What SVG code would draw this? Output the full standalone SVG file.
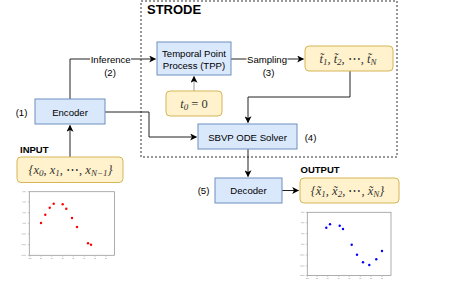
<svg xmlns="http://www.w3.org/2000/svg" width="457" height="287" viewBox="0 0 457 287">
<defs>
<marker id="ah" viewBox="0 0 10 10" refX="9" refY="5" markerWidth="7" markerHeight="7" orient="auto" markerUnits="userSpaceOnUse">
<path d="M0,0 L10,5 L0,10 L2.5,5 Z" fill="#000"/>
</marker>
<style>
.blue{fill:#dae8fc;stroke:#6c8ebf;stroke-width:1}
.yel{fill:#fff2cc;stroke:#d6b656;stroke-width:1}
.lbl{font-family:"Liberation Sans",Arial,sans-serif;font-size:9.6px;fill:#000;text-anchor:middle}
.bold{font-family:"Liberation Sans",Arial,sans-serif;font-weight:bold;fill:#000}
.math{font-family:"Liberation Serif","DejaVu Serif",serif;font-style:italic;font-size:12.5px;fill:#333;text-anchor:middle}
.conn{fill:none;stroke:#222;stroke-width:1}
.frame{fill:#fff;stroke:#999;stroke-width:0.8}
.tick{stroke:#aaa;stroke-width:0.6}
.rp{fill:#f00}
.bp{fill:#00f}
</style>
</defs>
<rect width="457" height="287" fill="#fff"/>

<g id="strode">
<rect x="141" y="1" width="256" height="156" fill="none" stroke="#333" stroke-width="1" stroke-dasharray="2 2"/>
<text class="bold" x="147" y="14" font-size="13">STRODE</text>
</g>

<g id="connectors">
<path class="conn" d="M70,99 V59 H155.5" marker-end="url(#ah)"/>
<path class="conn" d="M231,59 H303.5" marker-end="url(#ah)"/>
<path d="M194,91 V76.5" fill="none" stroke="#999" stroke-width="1" marker-end="url(#ah)"/>
<path class="conn" d="M105,112 H149 V137 H196.5" marker-end="url(#ah)"/>
<path class="conn" d="M350,71 V97 H248 V122.5" marker-end="url(#ah)"/>
<path class="conn" d="M248,149 V176.5" marker-end="url(#ah)"/>
<path class="conn" d="M70,157 V125.5" marker-end="url(#ah)"/>
<path class="conn" d="M282,190.5 H298.5" marker-end="url(#ah)"/>
<rect x="90" y="53" width="41" height="12" fill="#fff"/>
<text class="lbl" x="110.7" y="62.5">Inference</text>
<text class="lbl" x="110" y="76">(2)</text>
<rect x="246.5" y="54" width="41" height="12" fill="#fff"/>
<text class="lbl" x="267" y="63">Sampling</text>
<text class="lbl" x="268.5" y="76">(3)</text>
</g>

<g id="tpp">
<rect class="blue" x="157" y="42" width="74" height="33"/>
<text class="lbl" x="194" y="57">Temporal Point</text>
<text class="lbl" x="194" y="68.5">Process (TPP)</text>
</g>

<g id="t0">
<rect class="yel" x="166" y="91" width="56" height="25" rx="4"/>
<text class="math" x="194" y="107.5">t<tspan font-size="9" dy="2">0</tspan><tspan dy="-2" font-style="normal"> = 0</tspan></text>
</g>

<g id="tsample">
<rect class="yel" x="305" y="46" width="88" height="25" rx="4"/>
<text class="math" x="348" y="62.5">t̃<tspan font-size="9" dy="2">1</tspan><tspan dy="-2">, t̃</tspan><tspan font-size="9" dy="2">2</tspan><tspan dy="-2" font-style="normal">, ⋯, </tspan><tspan>t̃</tspan><tspan font-size="9" dy="2">N</tspan></text>
</g>

<g id="encoder">
<rect class="blue" x="35" y="99" width="70" height="25"/>
<text class="lbl" x="70" y="116">Encoder</text>
<text class="lbl" x="21.5" y="116">(1)</text>
</g>

<g id="sbvp">
<rect class="blue" x="198" y="124" width="99" height="25"/>
<text class="lbl" x="247.5" y="140.5">SBVP ODE Solver</text>
<text class="lbl" x="310.5" y="140.5">(4)</text>
</g>

<g id="decoder">
<rect class="blue" x="215" y="178" width="67" height="25"/>
<text class="lbl" x="248.5" y="194">Decoder</text>
<text class="lbl" x="203.5" y="194">(5)</text>
</g>

<g id="input">
<text class="bold" x="20" y="152.5" font-size="9.5">INPUT</text>
<rect class="yel" x="17" y="157" width="106" height="25.5" rx="4"/>
<text class="math" x="70.5" y="173.5">{x<tspan font-size="9" dy="2">0</tspan><tspan dy="-2">, x</tspan><tspan font-size="9" dy="2">1</tspan><tspan dy="-2" font-style="normal">, ⋯, </tspan><tspan>x</tspan><tspan font-size="9" dy="2">N−1</tspan><tspan dy="-2">}</tspan></text>
</g>

<g id="output">
<text class="bold" x="300.5" y="173" font-size="9.5">OUTPUT</text>
<rect class="yel" x="300" y="178" width="99" height="25" rx="4"/>
<text class="math" x="347.5" y="194.5">{x̃<tspan font-size="9" dy="2">1</tspan><tspan dy="-2">, x̃</tspan><tspan font-size="9" dy="2">2</tspan><tspan dy="-2" font-style="normal">, ⋯, </tspan><tspan>x̃</tspan><tspan font-size="9" dy="2">N</tspan><tspan dy="-2">}</tspan></text>
</g>

<g id="input-plot">
<rect class="frame" x="29.3" y="191.7" width="85.2" height="63.6"/>
<g class="tick">
<path d="M27.8,191.7h1.5M27.8,202h1.5M27.8,212.7h1.5M27.8,223.3h1.5M27.8,234h1.5M27.8,244.7h1.5M27.8,255.3h1.5"/>
<path d="M22.5,191.7h3.5M22.5,202h3.5M22.5,212.7h3.5M22.5,223.3h3.5M21.5,234h4.5M21.5,244.7h4.5M21.5,255.3h4.5"/>
<path d="M30,255.3v1.5M41,255.3v1.5M51.7,255.3v1.5M62.7,255.3v1.5M73.3,255.3v1.5M84.3,255.3v1.5M95,255.3v1.5M106,255.3v1.5"/>
<path d="M28.5,258.5h3M40,258.5h2M50.7,258.5h2M61.7,258.5h2M72.3,258.5h2M83.3,258.5h2M94,258.5h2M105,258.5h2"/>
</g>
<circle class="rp" cx="41" cy="223" r="1.2"/>
<circle class="rp" cx="45.3" cy="214.7" r="1.2"/>
<circle class="rp" cx="49.7" cy="207.7" r="1.2"/>
<circle class="rp" cx="53.7" cy="203.7" r="1.2"/>
<circle class="rp" cx="62.7" cy="204.3" r="1.2"/>
<circle class="rp" cx="66.3" cy="208.7" r="1.2"/>
<circle class="rp" cx="72" cy="218" r="1.2"/>
<circle class="rp" cx="77" cy="227" r="1.2"/>
<circle class="rp" cx="88" cy="243.3" r="1.2"/>
<circle class="rp" cx="91" cy="244.7" r="1.2"/>
</g>

<g id="output-plot">
<rect class="frame" x="307.3" y="212.3" width="83.7" height="63.2"/>
<g class="tick">
<path d="M305.8,212.3h1.5M305.8,222.7h1.5M305.8,233.7h1.5M305.8,244.3h1.5M305.8,255h1.5M305.8,266h1.5M305.8,275.5h1.5"/>
<path d="M301,212.3h3.5M301,222.7h3.5M301,233.7h3.5M301,244.3h3.5M300,255h4.5M300,266h4.5M300,275.5h4.5"/>
<path d="M307.3,275.5v1.5M317,275.5v1.5M327.7,275.5v1.5M338.7,275.5v1.5M349.3,275.5v1.5M360.3,275.5v1.5M371,275.5v1.5M382,275.5v1.5"/>
<path d="M305.8,278.5h3M316,278.5h2M326.7,278.5h2M337.7,278.5h2M348.3,278.5h2M359.3,278.5h2M370,278.5h2M381,278.5h2"/>
</g>
<circle class="bp" cx="326.3" cy="227.7" r="1.2"/>
<circle class="bp" cx="330" cy="224.3" r="1.2"/>
<circle class="bp" cx="339.7" cy="225.7" r="1.2"/>
<circle class="bp" cx="343" cy="229" r="1.2"/>
<circle class="bp" cx="351.7" cy="244.7" r="1.2"/>
<circle class="bp" cx="357" cy="254.7" r="1.2"/>
<circle class="bp" cx="363" cy="262.3" r="1.2"/>
<circle class="bp" cx="369.3" cy="265" r="1.2"/>
<circle class="bp" cx="376.3" cy="259.3" r="1.2"/>
<circle class="bp" cx="382" cy="251" r="1.2"/>
</g>
</svg>
